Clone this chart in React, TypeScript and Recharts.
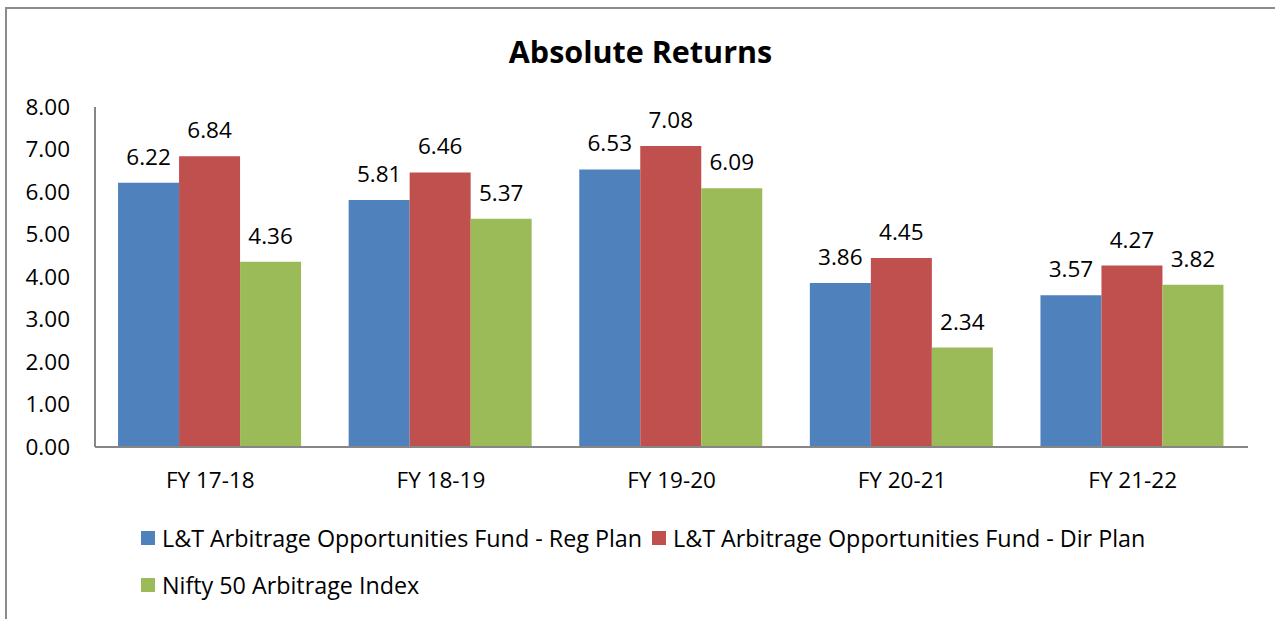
import { BarChart, Bar, XAxis, YAxis, LabelList } from 'recharts';

const categories = ['FY 17-18', 'FY 18-19', 'FY 19-20', 'FY 20-21', 'FY 21-22'];
const regPlan = [6.22, 5.81, 6.53, 3.86, 3.57];
const dirPlan = [6.84, 6.46, 7.08, 4.45, 4.27];
const niftyIndex = [4.36, 5.37, 6.09, 2.34, 3.82];
const yTicks = [0, 1, 2, 3, 4, 5, 6, 7, 8];

const SERIES = [
  { key: 'reg', name: 'L&T Arbitrage Opportunities Fund - Reg Plan', color: '#4F81BD' },
  { key: 'dir', name: 'L&T Arbitrage Opportunities Fund - Dir Plan', color: '#C0504D' },
  { key: 'nifty', name: 'Nifty 50 Arbitrage Index', color: '#9BBB59' },
];

const data = categories.map((name, i) => ({
  name,
  reg: regPlan[i],
  dir: dirPlan[i],
  nifty: niftyIndex[i],
}));

const FONT = '"Open Sans", "Liberation Sans", sans-serif';
const FS = 22.5;

function LegendItem({ name, color }: { name: string; color: string }) {
  return (
    <span style={{ display: 'flex', alignItems: 'center', marginRight: 10, whiteSpace: 'nowrap' }}>
      <span style={{ width: 14, height: 14, background: color, marginRight: 7 }} />
      {name}
    </span>
  );
}

function LegendBox() {
  return (
    <div style={{ position: 'absolute', left: 141, top: 524, fontFamily: FONT, fontSize: 23.3, color: '#000', lineHeight: '28px' }}>
      <div style={{ display: 'flex', alignItems: 'center', height: 28 }}>
        <LegendItem name={SERIES[0].name} color={SERIES[0].color} />
        <LegendItem name={SERIES[1].name} color={SERIES[1].color} />
      </div>
      <div style={{ display: 'flex', alignItems: 'center', height: 28, marginTop: 19 }}>
        <LegendItem name={SERIES[2].name} color={SERIES[2].color} />
      </div>
    </div>
  );
}

export default function App() {
  return (
    <div style={{ position: 'absolute', left: 0, top: 0, width: 1275, height: 619, background: '#fff', overflow: 'hidden' }}>
      <div
        style={{
          position: 'absolute',
          left: 5,
          top: 7,
          width: 1400,
          height: 700,
          borderTop: '2px solid #8c8c8c',
          borderLeft: '2px solid #8c8c8c',
        }}
      />
      <div
        style={{
          position: 'absolute',
          left: 0,
          width: 1281,
          top: 30,
          textAlign: 'center',
          fontFamily: FONT,
          fontWeight: 'bold',
          fontSize: 30.5,
        }}
      >
        Absolute Returns
      </div>
      <div style={{ position: 'absolute', left: 0, top: 0 }}>
        <BarChart
          width={1275}
          height={619}
          data={data}
          margin={{ top: 107, right: 27, left: 10, bottom: 112 }}
          barCategoryGap="10%"
          barGap={0}
        >
          <XAxis
            dataKey="name"
            axisLine={{ stroke: '#868686', strokeWidth: 2 }}
            tickLine={false}
            tickSize={0}
            tickMargin={25}
            tick={{ fontSize: FS, fill: '#000', fontFamily: FONT }}
            height={60}
          />
          <YAxis
            domain={[0, 8]}
            ticks={yTicks}
            interval={0}
            width={85}
            axisLine={{ stroke: '#868686', strokeWidth: 2 }}
            tickLine={false}
            tickSize={0}
            tickMargin={25}
            tickFormatter={(v: number) => v.toFixed(2)}
            tick={{ fontSize: FS, fill: '#000', fontFamily: FONT }}
          />
          {SERIES.map((s) => (
            <Bar key={s.key} dataKey={s.key} name={s.name} fill={s.color} isAnimationActive={false}>
              <LabelList
                dataKey={s.key}
                position="top"
                offset={18}
                formatter={(v: number) => v.toFixed(2)}
                style={{ fontSize: FS, fill: '#000', fontFamily: FONT }}
              />
            </Bar>
          ))}
        </BarChart>
      </div>
      <LegendBox />
    </div>
  );
}
